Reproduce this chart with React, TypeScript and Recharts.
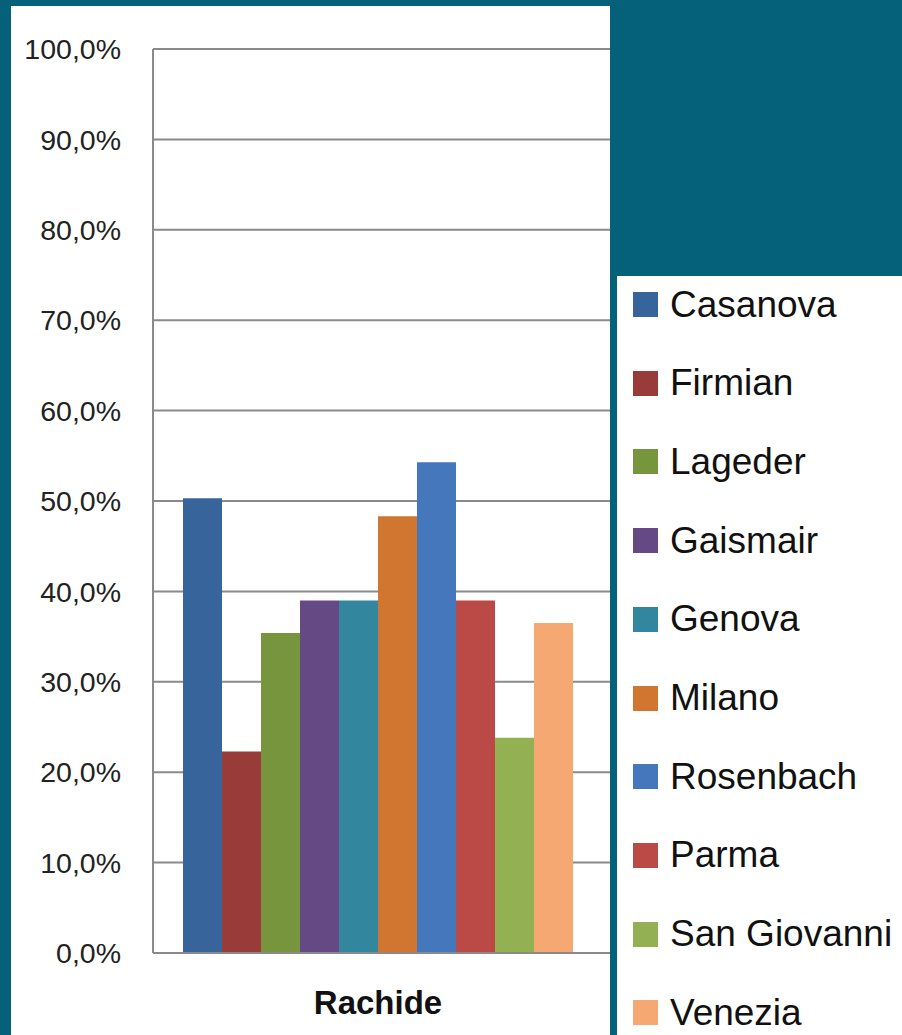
import { BarChart, Bar, XAxis, YAxis, CartesianGrid } from "recharts";

const categories = ["Rachide"];
const seriesNames = ["Casanova", "Firmian", "Lageder", "Gaismair", "Genova", "Milano", "Rosenbach", "Parma", "San Giovanni", "Venezia"];
const seriesValues = [50.3, 22.3, 35.4, 39.0, 39.0, 48.3, 54.3, 39.0, 23.8, 36.5];
const seriesColors = ["#37659b", "#983b39", "#77953d", "#644985", "#32869d", "#d07631", "#4477bc", "#bb4946", "#93b152", "#f6a873"];
const yTicks = [0, 10, 20, 30, 40, 50, 60, 70, 80, 90, 100];

const data = categories.map((name) => {
  const row: Record<string, string | number> = { name };
  seriesNames.forEach((s, i) => (row[s] = seriesValues[i]));
  return row;
});

const fmt = (v: number) => v.toFixed(1).replace(".", ",") + "%";
const FONT = "'Liberation Sans', Arial, sans-serif";
const GRID = "#8a8a8a";

export default function App() {
  return (
    <div style={{ position: "fixed", left: 0, top: 0, width: 902, height: 1035, background: "#05607a", overflow: "hidden", fontFamily: FONT }}>
      {/* chart panel */}
      <div style={{ position: "absolute", left: 11, top: 6, width: 599, height: 1029, background: "#fff", overflow: "hidden" }}>
        <div style={{ position: "absolute", left: -11, top: -6 }}>
          <BarChart width={617} height={1035} data={data} margin={{ top: 49, right: 0, bottom: 22, left: 0 }} barCategoryGap={30} barGap={0}>
            <CartesianGrid vertical={false} stroke={GRID} strokeWidth={2} />
            <XAxis
              dataKey="name"
              height={60}
              padding={{ left: 0, right: 14 }}
              axisLine={{ stroke: GRID, strokeWidth: 2 }}
              tickLine={false}
              tickSize={8}
              tickMargin={30}
              tick={{ fill: "#111", fontSize: 33, fontWeight: "bold", fontFamily: FONT }}
            />
            <YAxis
              width={153}
              domain={[0, 100]}
              ticks={yTicks}
              tickFormatter={fmt}
              axisLine={{ stroke: GRID, strokeWidth: 2 }}
              tickLine={false}
              tickSize={8}
              tickMargin={24}
              tick={{ fill: "#222", fontSize: 28.5, fontFamily: FONT }}
            />
            {seriesNames.map((s, i) => (
              <Bar key={s} dataKey={s} fill={seriesColors[i]} isAnimationActive={false} />
            ))}
          </BarChart>
        </div>
      </div>
      {/* legend panel */}
      <div style={{ position: "absolute", left: 617, top: 276, width: 285, height: 759, background: "#fff" }}>
        {seriesNames.map((s, i) => (
          <div key={s} style={{ position: "absolute", left: 16, top: 304.5 - 276 - 20 + i * 78.7, height: 40, display: "flex", alignItems: "center", whiteSpace: "nowrap" }}>
            <div style={{ width: 25, height: 25, background: seriesColors[i], marginRight: 12 }} />
            <span style={{ fontSize: 37, color: "#111", lineHeight: "40px" }}>{s}</span>
          </div>
        ))}
      </div>
    </div>
  );
}
